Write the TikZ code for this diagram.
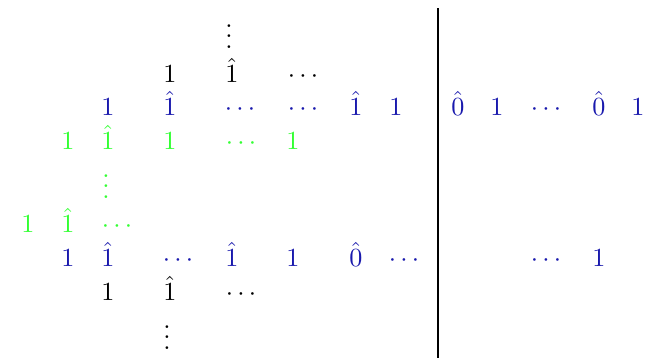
\documentclass[tikz,border=0pt]{standalone}
\definecolor{myblue}{rgb}{0.1,0.1,0.68}
\definecolor{mygreen}{rgb}{0.2,1,0.2}
\begin{document}
\begin{tikzpicture}[x=0.3825pt,y=-0.3825pt,
  e/.style={anchor=base,inner sep=0pt,outer sep=0pt},
  bk/.style={e,text=black},
  bl/.style={e,text=myblue},
  gr/.style={e,text=mygreen}]
\useasboundingbox (0,0) rectangle (649,358);
% top vdots
\node[bk] (tv) at (229,48) {$\vdots$};
% row 1 black
\node[bk] (a1) at (170,82) {$1$};
\node[bk] (a2) at (232,82) {$\hat{1}$};
\node[bk] (a3) at (303,82) {$\cdots$};
% row 2 blue
\node[bl] (b1) at (108,115) {$1$};
\node[bl] (b2) at (170,115) {$\hat{1}$};
\node[bl] (b3) at (240,115) {$\cdots$};
\node[bl] (b4) at (303,115) {$\cdots$};
\node[bl] (b5) at (356,115) {$\hat{1}$};
\node[bl] (b6) at (396,115) {$1$};
\node[bl] (r1) at (458,115) {$\hat{0}$};
\node[bl] (r2) at (497,115) {$1$};
\node[bl] (r3) at (546,115) {$\cdots$};
\node[bl] (r4) at (599,115) {$\hat{0}$};
\node[bl] (r5) at (638,115) {$1$};
% row 3 green
\node[gr] (c1) at (68,149) {$1$};
\node[gr] (c2) at (108,149) {$\hat{1}$};
\node[gr] (c3) at (170,149) {$1$};
\node[gr] (c4) at (241,149) {$\cdots$};
\node[gr] (c5) at (293,149) {$1$};
% green vdots
\node[gr] (gv) at (106,198) {$\vdots$};
% row 4 green
\node[gr] (d1) at (28,232) {$1$};
\node[gr] (d2) at (68,232) {$\hat{1}$};
\node[gr] (d3) at (117,232) {$\cdots$};
% row 5 blue
\node[bl] (f1) at (68,266) {$1$};
\node[bl] (f2) at (108,266) {$\hat{1}$};
\node[bl] (f3) at (178,266) {$\cdots$};
\node[bl] (f4) at (232,266) {$\hat{1}$};
\node[bl] (f5) at (293,266) {$1$};
\node[bl] (f6) at (356,266) {$\hat{0}$};
\node[bl] (f7) at (404,266) {$\cdots$};
\node[bl] (s1) at (546,266) {$\cdots$};
\node[bl] (s2) at (599,266) {$1$};
% row 6 black
\node[bk] (g1) at (108,300) {$1$};
\node[bk] (g2) at (170,300) {$\hat{1}$};
\node[bk] (g3) at (241,300) {$\cdots$};
% bottom vdots
\node[bk] (bv) at (167,349) {$\vdots$};
% vertical line
\coordinate (lt) at (438,8);
\coordinate (lb) at (438,358);
\draw[line width=0.8pt] (lt) -- (lb);
\end{tikzpicture}
\end{document}
